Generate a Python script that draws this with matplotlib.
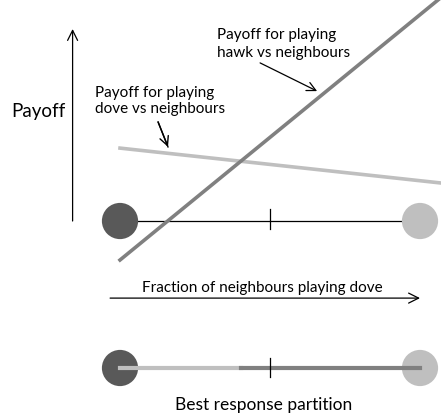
import matplotlib.pyplot as plt

plt.rcParams['font.family'] = ['Lato', 'DejaVu Sans']

# fraction of neighbours playing dove (0 = all hawk, 1 = all dove)
frac = [0.0, 1.067]
hawk_payoff = [-0.13, 0.7425]
dove_payoff = [0.243, 0.127]

ends = [0.0, 1.0]
mid_tick = 0.5
base_y = 0.0        # payoff baseline with the strategy circles
partition_y = -0.49  # level of the best response partition row
frac_arrow_y = -0.257

hawk_col = '#808080'
dove_col = '#bfbfbf'
circle_cols = ['#595959', '#bfbfbf']

fig = plt.figure(figsize=(4.41, 4.19), dpi=100)
ax = fig.add_axes([0, 0, 1, 1])
ax.set_xlim(-0.4, 1.07)
ax.set_ylim(-0.66, 0.7367)
ax.axis('off')

# crossing point of the two payoff lines -> partition boundary
sh = (hawk_payoff[1] - hawk_payoff[0]) / (frac[1] - frac[0])
sd = (dove_payoff[1] - dove_payoff[0]) / (frac[1] - frac[0])
cross = (dove_payoff[0] - hawk_payoff[0]) / (sh - sd)

arrow = dict(arrowstyle='->', lw=0.9, color='black', shrinkA=0, shrinkB=0)

# top panel
ax.plot(ends, [base_y, base_y], color='black', lw=0.9, zorder=1)
ax.plot([mid_tick, mid_tick], [base_y - 0.027, base_y + 0.04], color='black', lw=0.9, zorder=1)
ax.scatter(ends, [base_y, base_y], s=680, c=circle_cols, zorder=2, linewidths=0)
ax.plot(frac, dove_payoff, color=dove_col, lw=2.6, zorder=3)
ax.plot(frac, hawk_payoff, color=hawk_col, lw=2.6, zorder=3)

# payoff axis arrow
ax.annotate('', xy=(-0.158, 0.64), xytext=(-0.158, base_y),
            arrowprops=dict(arrow, mutation_scale=18))
ax.text(-0.362, 0.365, 'Payoff', fontsize=13.5, va='center', ha='left')

# labels for the two payoff lines
ax.text(0.323, 0.59, 'Payoff for playing\nhawk vs neighbours',
        fontsize=11, ha='left', va='center', linespacing=1.35)
ax.annotate('', xy=(0.657, 0.433), xytext=(0.467, 0.527),
            arrowprops=dict(arrow, mutation_scale=16))
ax.text(-0.083, 0.4, 'Payoff for playing\ndove vs neighbours',
        fontsize=11, ha='left', va='center', linespacing=1.2)
ax.plot([0.127, 0.16], [0.33, 0.247], color='black', lw=1.0, zorder=4)
ax.annotate('', xy=(0.16, 0.247), xytext=(0.127, 0.33),
            arrowprops=dict(arrow, lw=1.0, mutation_scale=16), zorder=4)

# fraction axis arrow
ax.annotate('', xy=(1.0, frac_arrow_y), xytext=(-0.033, frac_arrow_y),
            arrowprops=dict(arrow, mutation_scale=18))
ax.text(0.475, frac_arrow_y + 0.035, 'Fraction of neighbours playing dove',
        fontsize=11, ha='center', va='center')

# best response partition
ax.scatter(ends, [partition_y, partition_y], s=680, c=circle_cols, zorder=1, linewidths=0)
ax.plot([0, cross], [partition_y, partition_y], color=dove_col, lw=3, zorder=2)
ax.plot([cross, 1], [partition_y, partition_y], color=hawk_col, lw=3, zorder=2)
ax.plot([mid_tick, mid_tick], [partition_y - 0.03, partition_y + 0.033], color='black', lw=0.9, zorder=3)
ax.text(0.48, -0.612, 'Best response partition', fontsize=12.5, ha='center', va='center')

fig.savefig('out.png', dpi=100)
